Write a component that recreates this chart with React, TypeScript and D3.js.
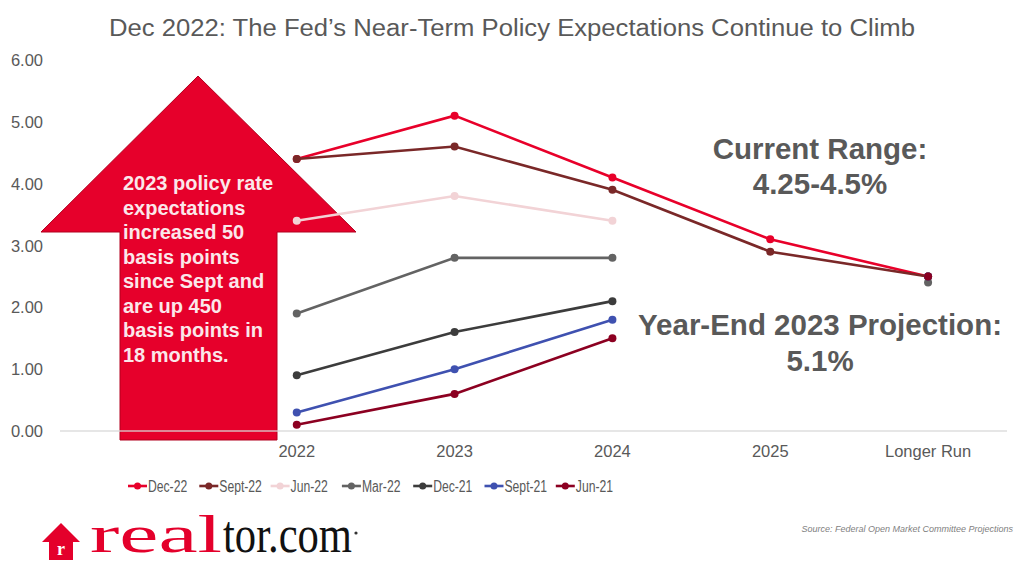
import React from "react";
import * as d3 from "d3";

const categories = ["", "2022", "2023", "2024", "2025", "Longer Run"];
const yTicks = [0, 1, 2, 3, 4, 5, 6];

const seriesNames = ["Dec-22", "Sept-22", "Jun-22", "Mar-22", "Dec-21", "Sept-21", "Jun-21"];
const seriesColors = ["#e8002a", "#7a2828", "#f2d3d6", "#636363", "#3c3c3c", "#3f51b0", "#8c0021"];

const dec22 = [null, 4.4, 5.1, 4.1, 3.1, 2.5];
const sept22 = [null, 4.4, 4.6, 3.9, 2.9, 2.5];
const jun22 = [null, 3.4, 3.8, 3.4, null, 2.5];
const mar22 = [null, 1.9, 2.8, 2.8, null, 2.4];
const dec21 = [null, 0.9, 1.6, 2.1, null, 2.5];
const sept21 = [null, 0.3, 1.0, 1.8, null, 2.5];
const jun21 = [null, 0.1, 0.6, 1.5, null, 2.5];
const seriesValues = [dec22, sept22, jun22, mar22, dec21, sept21, jun21];

const arrowLines = [
  "2023 policy rate",
  "expectations",
  "increased 50",
  "basis points",
  "since Sept and",
  "are up 450",
  "basis points in",
  "18 months.",
];

const W = 1024;
const H = 564;
const FONT = "Arial, 'Liberation Sans', Helvetica, sans-serif";
const SERIF = "'Liberation Serif', 'DejaVu Serif', serif";
const GRAY = "#595959";

export default function App() {
  const x = d3.scaleBand<string>().domain(categories).range([60, 1007]).padding(0);
  const y = d3.scaleLinear().domain([0, 6]).range([431, 60]);
  const cx = (c: string) => (x(c) as number) + x.bandwidth() / 2;

  const line = d3
    .line<{ c: string; v: number | null }>()
    .defined((d) => d.v !== null)
    .x((d) => cx(d.c))
    .y((d) => y(d.v as number));

  const arrowPts: [number, number][] = [
    [198, 76],
    [356, 232],
    [277, 232],
    [277, 440],
    [120, 440],
    [120, 232],
    [41, 232],
  ];

  const legendStartX = 128;
  const legendStep = 71.3;
  const legendY = 486;

  return (
    <svg width={W} height={H} style={{ position: "absolute", left: 0, top: 0, background: "#fff" }}>
      <rect width={W} height={H} fill="#fff" />
      <text
        x={109}
        y={36}
        fontFamily={FONT}
        fontSize={23}
        fill={GRAY}
        textLength={806}
        lengthAdjust="spacingAndGlyphs"
      >
        Dec 2022: The Fed’s Near-Term Policy Expectations Continue to Climb
      </text>

      {yTicks.map((t) => (
        <text key={t} x={43} y={y(t) + 6} textAnchor="end" fontFamily={FONT} fontSize={16.5} fill={GRAY}>
          {t.toFixed(2)}
        </text>
      ))}

      {/* arrow */}
      <polygon
        points={arrowPts.map((p) => p.join(",")).join(" ")}
        fill="#e6002b"
        stroke="#b2001f"
        strokeWidth={1}
      />
      {arrowLines.map((l, i) => (
        <text
          key={i}
          x={123}
          y={190 + i * 24.5}
          fontFamily={FONT}
          fontSize={20}
          fontWeight="bold"
          fill="#fbe7ea"
        >
          {l}
        </text>
      ))}

      <line x1={60} x2={1007} y1={y(0)} y2={y(0)} stroke="#d9d9d9" strokeWidth={1.3} opacity={0.85} />

      {/* series */}
      {seriesValues.map((vals, i) => {
        const pts = categories.map((c, j) => ({ c, v: vals[j] }));
        return (
          <g key={seriesNames[i]}>
            <path d={line(pts) || ""} fill="none" stroke={seriesColors[i]} strokeWidth={2.6} />
            {pts
              .filter((p) => p.v !== null)
              .map((p) => (
                <circle key={p.c} cx={cx(p.c)} cy={y(p.v as number)} r={4} fill={seriesColors[i]} />
              ))}
          </g>
        );
      })}

      {categories
        .filter((c) => c !== "")
        .map((c) => (
          <text key={c} x={cx(c)} y={457} textAnchor="middle" fontFamily={FONT} fontSize={16.5} fill={GRAY}>
            {c}
          </text>
        ))}

      <g fontFamily={FONT} fontWeight="bold" fill={GRAY} textAnchor="middle" fontSize={29.5}>
        <text x={820} y={159}>Current Range:</text>
        <text x={820} y={194}>4.25-4.5%</text>
        <text x={820} y={335}>Year-End 2023 Projection:</text>
        <text x={820} y={371}>5.1%</text>
      </g>

      {seriesNames.map((n, i) => {
        const lx = legendStartX + i * legendStep;
        return (
          <g key={n}>
            <line x1={lx} x2={lx + 19} y1={legendY} y2={legendY} stroke={seriesColors[i]} strokeWidth={2.6} />
            <circle cx={lx + 9.5} cy={legendY} r={3.5} fill={seriesColors[i]} />
            <text
              transform={`translate(${lx + 20},${legendY + 5.5}) scale(0.76,1)`}
              fontFamily={FONT}
              fontSize={16}
              fill={GRAY}
            >
              {n}
            </text>
          </g>
        );
      })}

      <text
        x={1013}
        y={532}
        textAnchor="end"
        fontFamily={FONT}
        fontStyle="italic"
        fontSize={9}
        fill="#7f7f7f"
      >
        Source: Federal Open Market Committee Projections
      </text>

      {/* logo */}
      <g>
        <polygon points="61,523 80,542 73,542 73,560 49,560 49,542 42,542" fill="#e4002b" />
        <text x={61} y={555} textAnchor="middle" fontFamily={SERIF} fontSize={18} fontWeight="bold" fill="#fff">
          r
        </text>
        <text
          transform="translate(90,552) scale(1,1.15)"
          fontFamily={SERIF}
          fontSize={45}
          fill="#e4002b"
          textLength={132}
          lengthAdjust="spacingAndGlyphs"
        >
          real
        </text>
        <text
          transform="translate(223,552) scale(1,1.15)"
          fontFamily={SERIF}
          fontSize={45}
          fill="#111"
          textLength={129}
          lengthAdjust="spacingAndGlyphs"
        >
          tor.com
        </text>
        <circle cx={356} cy={533} r={1.6} fill="#333" />
      </g>
    </svg>
  );
}
